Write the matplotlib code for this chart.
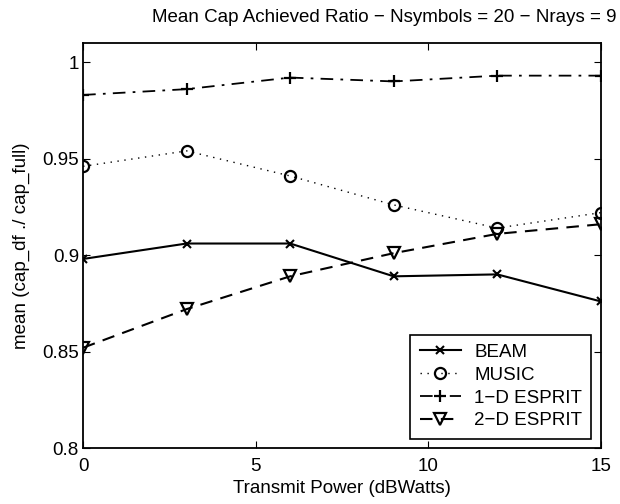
import matplotlib
matplotlib.use('Agg')
import matplotlib.pyplot as plt

plt.rcParams['font.family'] = ['Liberation Sans', 'DejaVu Sans']
plt.rcParams['font.size'] = 13.5

# data
power = [0, 3, 6, 9, 12, 15]
beam = [0.898, 0.906, 0.906, 0.889, 0.890, 0.876]
music = [0.946, 0.954, 0.941, 0.926, 0.914, 0.922]
esprit_1d = [0.983, 0.986, 0.992, 0.990, 0.993, 0.993]
esprit_2d = [0.852, 0.872, 0.889, 0.901, 0.911, 0.916]

fig = plt.figure(figsize=(6.2, 5.04), dpi=100)
ax = fig.add_axes([0.134, 0.111, 0.835, 0.804])

ax.plot(power, beam, 'k-x', lw=1.5, ms=6, mew=1.5, label='BEAM')
ax.plot(power, music, 'k:o', lw=1.0, ms=8, mew=1.6, mfc='none', dashes=(1, 4), label='MUSIC')
ax.plot(power, esprit_1d, 'k-.+', lw=1.3, ms=9, mew=1.6, dashes=(7, 4, 1.5, 4), label='1\u2212D ESPRIT')
ax.plot(power, esprit_2d, 'k--v', lw=1.5, ms=8, mew=1.6, mfc='none', dashes=(6, 4), label='2\u2212D ESPRIT')

ax.set_xlim(0, 15)
ax.set_ylim(0.8, 1.01)
ax.set_xticks([0, 5, 10, 15])
ax.set_yticks([0.8, 0.85, 0.9, 0.95, 1.0])
ax.set_yticklabels(['0.8', '0.85', '0.9', '0.95', '1'])
ax.tick_params(direction='in', top=True, right=True, length=5, labelsize=13.5)
ax.tick_params(axis='x', pad=7)
ax.tick_params(axis='y', pad=3)
for s in ax.spines.values():
    s.set_linewidth(1.3)

ax.set_xlabel('Transmit Power (dBWatts)', labelpad=4)
ax.set_ylabel('mean (cap_df ./ cap_full)', labelpad=9)
fig.text(0.62, 0.965, 'Mean Cap Achieved Ratio \u2212 Nsymbols = 20 \u2212 Nrays = 9',
         ha='center', va='center')

leg = ax.legend(loc='lower right', fancybox=False, framealpha=1,
                edgecolor='black', handlelength=2.2, borderaxespad=0.5,
                labelspacing=0.3, borderpad=0.5, handletextpad=0.7)
leg.get_frame().set_linewidth(1.2)

fig.savefig('out.png', dpi=100)
